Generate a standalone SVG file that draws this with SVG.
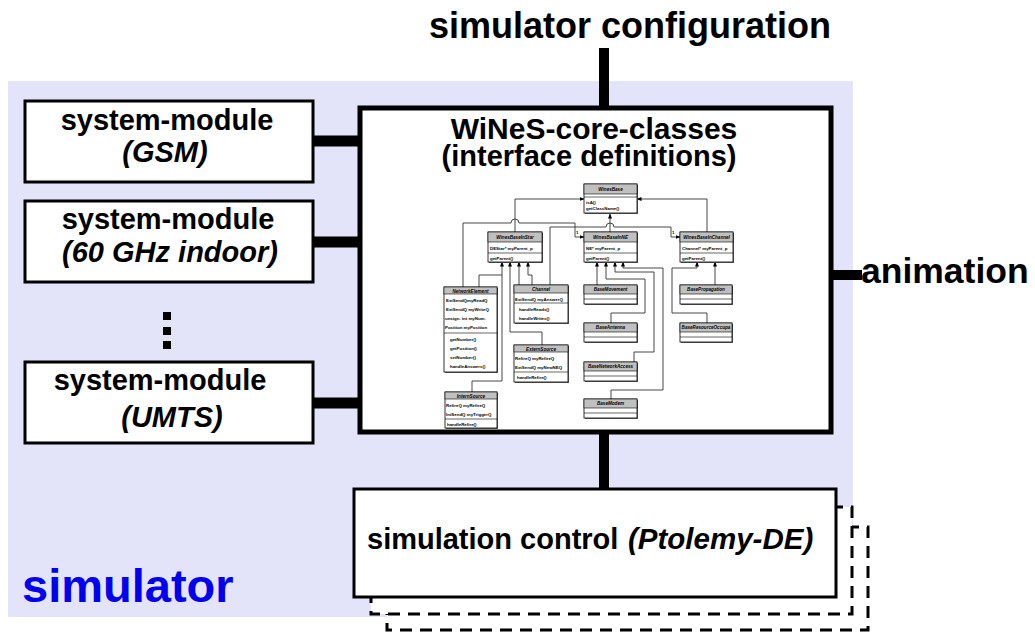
<svg xmlns="http://www.w3.org/2000/svg" width="1035" height="633" viewBox="0 0 1035 633">
<defs>
<marker id="ah" markerUnits="userSpaceOnUse" markerWidth="5" markerHeight="4" refX="4.5" refY="2" orient="auto">
<path d="M0,0 L5,2 L0,4 Z" fill="#000"/>
</marker>
</defs>
<style>
.big{font-family:"Liberation Sans",Arial,sans-serif;font-weight:bold;fill:#000}
.it{font-style:italic}
.box{fill:#fff;stroke:#000;stroke-width:3}
.thick{stroke:#000;fill:none}
.dash{fill:#fff;stroke:#000;stroke-width:3;stroke-dasharray:12 8}
.u{fill:#fff;stroke:#000;stroke-width:0.8}
.uh{fill:#c0c0c0;stroke:#000;stroke-width:0.6}
.sh{fill:#666}
.sep{stroke:#000;stroke-width:0.6}
.ut{font-family:"Liberation Sans",Arial,sans-serif;font-weight:bold;font-style:italic;font-size:4.6px;text-anchor:middle}
.ua{font-family:"Liberation Sans",Arial,sans-serif;font-weight:bold;font-size:4.4px}
.uc{fill:none;stroke:#333;stroke-width:0.9}
</style>
<rect x="8" y="81" width="845" height="536" fill="#e3e3fa"/>
<g id="dashed-back">
<rect class="dash" x="387" y="527" width="481" height="103"/>
<rect class="dash" x="371" y="507" width="481" height="107"/>
</g>
<g id="connectors">
<line class="thick" x1="604" y1="48" x2="604" y2="108" stroke-width="10"/>
<line class="thick" x1="833" y1="275" x2="862" y2="275" stroke-width="10"/>
<line class="thick" x1="604" y1="433" x2="604" y2="490" stroke-width="10"/>
<line class="thick" x1="313" y1="141" x2="358" y2="141" stroke-width="11"/>
<line class="thick" x1="313" y1="242" x2="358" y2="242" stroke-width="11"/>
<line class="thick" x1="313" y1="403" x2="358" y2="403" stroke-width="11"/>
</g>
<g id="sim-control">
<rect class="box" x="354" y="489" width="482" height="108"/>
<text class="big" x="367" y="549" font-size="29">simulation control</text>
<text class="big it" x="628" y="549" font-size="29.5">(Ptolemy-DE)</text>
</g>
<g id="gsm">
<rect class="box" x="25" y="101" width="288" height="81"/>
<text class="big" x="167" y="130" font-size="29" text-anchor="middle">system-module</text>
<text class="big it" x="165" y="162" font-size="29" text-anchor="middle">(GSM)</text>
</g>
<g id="ghz">
<rect class="box" x="25" y="201" width="288" height="81"/>
<text class="big" x="168" y="229" font-size="29" text-anchor="middle">system-module</text>
<text class="big it" x="170" y="262" font-size="29" text-anchor="middle">(60 GHz indoor)</text>
</g>
<g id="dots">
<rect x="163" y="312" width="8" height="8"/>
<rect x="163" y="327" width="8" height="8"/>
<rect x="163" y="341" width="8" height="8"/>
</g>
<g id="umts">
<rect class="box" x="25" y="362" width="288" height="81"/>
<text class="big" x="160" y="390" font-size="29" text-anchor="middle">system-module</text>
<text class="big it" x="172" y="427" font-size="29" text-anchor="middle">(UMTS)</text>
</g>
<g id="core">
<rect x="360" y="108" width="471" height="324" fill="#fff" stroke="#000" stroke-width="5"/>
<text class="big" x="594" y="139" font-size="30" text-anchor="middle">WiNeS-core-classes</text>
<text class="big" x="589" y="166" font-size="29" text-anchor="middle">(interface definitions)</text>
</g>
<g id="uml-connectors">
<path class="uc" d="M515,232 V199 H584" marker-end="url(#ah)"/>
<path class="uc" d="M707,232 V199 H637" marker-end="url(#ah)"/>
<path class="uc" d="M610,232 V214" marker-end="url(#ah)"/>
<path class="uc" d="M463,287 V223 H511 a4,4 0 0 1 8,0 H575 V237 H584" marker-end="url(#ah)"/>
<path class="uc" d="M550,287 V227 H606 a4,4 0 0 1 8,0 H671 V237 H680" marker-end="url(#ah)"/>
<path class="uc" d="M479,287 V275 H502 V262" marker-end="url(#ah)"/>
<path class="uc" d="M472,392 V381 H502 V275"/>
<path class="uc" d="M542,345 V332 H510 V262" marker-end="url(#ah)"/>
<path class="uc" d="M519,285 V262" marker-end="url(#ah)"/>
<path class="uc" d="M532,285 V275 H528 V262" marker-end="url(#ah)"/>
<path class="uc" d="M597,285 V262" marker-end="url(#ah)"/>
<path class="uc" d="M611,323 V313 H645 V279 H606 V262" marker-end="url(#ah)"/>
<path class="uc" d="M634,362 V352 H654 V272 H615 V262" marker-end="url(#ah)"/>
<path class="uc" d="M611,399 V390 H663 V268 H623 V262" marker-end="url(#ah)"/>
<path class="uc" d="M715,285 V262" marker-end="url(#ah)"/>
<path class="uc" d="M707,323 V313 H672 V268 H697 V262" marker-end="url(#ah)"/>
<text class="ua" x="576" y="234">1</text>
<text class="ua" x="672" y="234">1</text>
</g>
<g id="WinesBase">
<rect class="sh" x="585" y="185" width="53" height="29"/>
<rect class="u" x="584" y="184" width="53" height="29"/>
<rect class="uh" x="584" y="184" width="53" height="10"/>
<line class="sep" x1="584" y1="197" x2="637" y2="197"/>
<text class="ut" x="610.5" y="191">WinesBase</text>
<text class="ua" x="586" y="203.5">isA()</text>
<text class="ua" x="586" y="210">getClassName()</text>
</g>
<g id="WinesBaseInStar">
<rect class="sh" x="489" y="233" width="54" height="30"/>
<rect class="u" x="488" y="232" width="54" height="30"/>
<rect class="uh" x="488" y="232" width="54" height="10"/>
<line class="sep" x1="488" y1="253" x2="542" y2="253"/>
<text class="ut" x="515" y="239">WinesBaseInStar</text>
<text class="ua" x="490" y="249.5">DEStar* myParent_p</text>
<text class="ua" x="490" y="259.5">getParent()</text>
</g>
<g id="WinesBaseInNE">
<rect class="sh" x="585" y="233" width="53" height="30"/>
<rect class="u" x="584" y="232" width="53" height="30"/>
<rect class="uh" x="584" y="232" width="53" height="10"/>
<line class="sep" x1="584" y1="253" x2="637" y2="253"/>
<text class="ut" x="610.5" y="239">WinesBaseInNE</text>
<text class="ua" x="586" y="249.5">NE* myParent_p</text>
<text class="ua" x="586" y="259.5">getParent()</text>
</g>
<g id="WinesBaseInChannel">
<rect class="sh" x="681" y="233" width="53" height="30"/>
<rect class="u" x="680" y="232" width="53" height="30"/>
<rect class="uh" x="680" y="232" width="53" height="10"/>
<line class="sep" x1="680" y1="253" x2="733" y2="253"/>
<text class="ut" x="706.5" y="239">WinesBaseInChannel</text>
<text class="ua" x="682" y="249.5">Channel* myParent_p</text>
<text class="ua" x="682" y="259.5">getParent()</text>
</g>
<g id="NetworkElement">
<rect class="sh" x="445" y="288" width="53" height="85"/>
<rect class="u" x="444" y="287" width="53" height="85"/>
<rect class="uh" x="444" y="287" width="53" height="7"/>
<line class="sep" x1="444" y1="333" x2="497" y2="333"/>
<text class="ut" x="470.5" y="292.5">NetworkElement</text>
<text class="ua" x="446" y="301.5">ExtSendQmyReadQ</text>
<text class="ua" x="446" y="310.5">ExtSendQ myWriteQ</text>
<text class="ua" x="445" y="319.5">unsign. int myNum.</text>
<text class="ua" x="445" y="328.5">Position myPosition</text>
<text class="ua" x="450" y="340.5">getNumber()</text>
<text class="ua" x="450" y="349.5">getPosition()</text>
<text class="ua" x="450" y="358.5">setNumber()</text>
<text class="ua" x="450" y="367.5">handleAnswers()</text>
</g>
<g id="Channel">
<rect class="sh" x="515" y="286" width="54" height="38"/>
<rect class="u" x="514" y="285" width="54" height="38"/>
<rect class="uh" x="514" y="285" width="54" height="8"/>
<line class="sep" x1="514" y1="303" x2="568" y2="303"/>
<text class="ut" x="541" y="291">Channel</text>
<text class="ua" x="515" y="300.5">ExtSendQ myAnswerQ</text>
<text class="ua" x="519" y="311">handleReads()</text>
<text class="ua" x="519" y="319.5">handleWrites()</text>
</g>
<g id="ExternSource">
<rect class="sh" x="515" y="346" width="54" height="37"/>
<rect class="u" x="514" y="345" width="54" height="37"/>
<rect class="uh" x="514" y="345" width="54" height="7"/>
<line class="sep" x1="514" y1="372" x2="568" y2="372"/>
<text class="ut" x="541" y="350.5">ExternSource</text>
<text class="ua" x="515" y="359.5">RefireQ myRefireQ</text>
<text class="ua" x="515" y="368.5">ExtSendQ myNewNEQ</text>
<text class="ua" x="517" y="379">handleRefire()</text>
</g>
<g id="InternSource">
<rect class="sh" x="446" y="393" width="52" height="36"/>
<rect class="u" x="445" y="392" width="52" height="36"/>
<rect class="uh" x="445" y="392" width="52" height="7"/>
<line class="sep" x1="445" y1="419" x2="497" y2="419"/>
<text class="ut" x="471" y="397.5">InternSource</text>
<text class="ua" x="446" y="406.5">RefireQ myRefireQ</text>
<text class="ua" x="446" y="415.5">IntSendQ myTriggerQ</text>
<text class="ua" x="447" y="425.5">handleRefire()</text>
</g>
<g id="BaseMovement">
<rect class="sh" x="585" y="286" width="53" height="19"/>
<rect class="u" x="584" y="285" width="53" height="19"/>
<rect class="uh" x="584" y="285" width="53" height="9"/>
<line class="sep" x1="584" y1="299" x2="637" y2="299"/>
<text class="ut" x="610.5" y="291">BaseMovement</text>
</g>
<g id="BaseAntenna">
<rect class="sh" x="585" y="324" width="53" height="19"/>
<rect class="u" x="584" y="323" width="53" height="19"/>
<rect class="uh" x="584" y="323" width="53" height="9"/>
<line class="sep" x1="584" y1="337" x2="637" y2="337"/>
<text class="ut" x="610.5" y="329">BaseAntenna</text>
</g>
<g id="BaseNetworkAccess">
<rect class="sh" x="585" y="363" width="53" height="19"/>
<rect class="u" x="584" y="362" width="53" height="19"/>
<rect class="uh" x="584" y="362" width="53" height="9"/>
<line class="sep" x1="584" y1="376" x2="637" y2="376"/>
<text class="ut" x="610.5" y="368">BaseNetworkAccess</text>
</g>
<g id="BaseModem">
<rect class="sh" x="585" y="400" width="53" height="19"/>
<rect class="u" x="584" y="399" width="53" height="19"/>
<rect class="uh" x="584" y="399" width="53" height="9"/>
<line class="sep" x1="584" y1="413" x2="637" y2="413"/>
<text class="ut" x="610.5" y="405">BaseModem</text>
</g>
<g id="BasePropagation">
<rect class="sh" x="681" y="286" width="52" height="19"/>
<rect class="u" x="680" y="285" width="52" height="19"/>
<rect class="uh" x="680" y="285" width="52" height="9"/>
<line class="sep" x1="680" y1="299" x2="732" y2="299"/>
<text class="ut" x="706" y="291">BasePropagation</text>
</g>
<g id="BaseResourceOccupancy">
<rect class="sh" x="681" y="324" width="52" height="19"/>
<rect class="u" x="680" y="323" width="52" height="19"/>
<rect class="uh" x="680" y="323" width="52" height="9"/>
<line class="sep" x1="680" y1="337" x2="732" y2="337"/>
<text class="ut" x="706" y="329">BaseResourceOccupa</text>
</g>
<g id="labels">
<text class="big" x="429" y="38" font-size="36">simulator configuration</text>
<text class="big" x="861" y="283" font-size="35.5">animation</text>
<text class="big" x="22" y="602" font-size="47" style="fill:#0000ee">simulator</text>
</g>
</svg>
